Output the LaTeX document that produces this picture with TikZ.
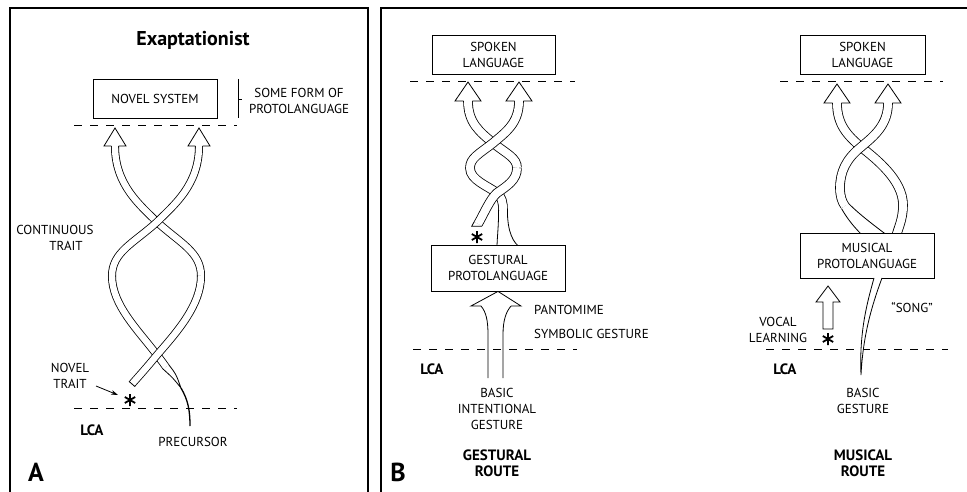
\documentclass[tikz,border=0pt]{standalone}
\usepackage{fontspec}
\setmainfont{PT Sans}
\usetikzlibrary{arrows.meta}
\begin{document}
\begin{tikzpicture}[x=1pt,y=-1pt,
  lbl/.style={font=\fontsize{13}{16}\selectfont, inner sep=0pt, align=center},
  blbl/.style={font=\fontsize{15}{16}\selectfont\bfseries, inner sep=0pt, align=center},
  boxn/.style={draw, line width=0.8pt, fill=white, inner sep=0pt, align=center, font=\fontsize{13}{16}\selectfont},
  ribA/.style={line width=0.8pt, double=white, double distance=6.4pt},
  ribB/.style={line width=0.8pt, double=white, double distance=8pt},
  edge/.style={line width=0.8pt},
  dline/.style={line width=0.9pt, dash pattern=on 8pt off 8pt},
  frame/.style={line width=1.2pt},
  starmark/.pic={\draw[line width=1.8pt] (0,-6) -- (0,6) (-5.2,-3) -- (5.2,3) (-5.2,3) -- (5.2,-3);}
]
\useasboundingbox (0,0) rectangle (967,492);
% frames
\draw[frame] (10,492) -- (10,8) -- (368,8) -- (368,492);
\draw[frame] (381,492) -- (381,8) -- (967,8);

%% ---------------- Panel A ----------------
\node[font=\fontsize{20}{22}\selectfont\bfseries, inner sep=0pt] (exap) at (193,40) {Exaptationist};
\draw[dline] (74,125) -- (237,125);
\draw[dline] (74,408) -- (237,408);
% strands
\draw[ribA] (115,146) .. controls (115,185) and (140,205) .. (157,222) .. controls (180,243) and (201,252) .. (201,276);
\draw[ribA] (199,146) .. controls (199,185) and (174,205) .. (157,222) .. controls (134,243) and (112,252) .. (112,276) .. controls (112,305) and (138,330) .. (157,355) .. controls (161,360) .. (166,367);
\draw[edge, fill=white] (168.9,364.9) .. controls (176,374) .. (181,388) .. controls (173,378) .. (163.1,369.1);
\draw[line width=1.3pt] (181,388) .. controls (188,400) and (190,410) .. (190,426);
\draw[ribA] (201,276) .. controls (201,305) and (177,332) .. (157,355) .. controls (147,367) .. (132,384);
\draw[edge] (135,386.6) -- (129,381.4);
% heads
\draw[edge, fill=white] (111.4,146) -- (104,146) -- (115,128) -- (126,146) -- (118.6,146);
\draw[edge, fill=white] (195.4,146) -- (188,146) -- (199,128) -- (210,146) -- (202.6,146);
\node[boxn, minimum width=124pt, minimum height=39pt] (novsys) at (155,98.5) {NOVEL SYSTEM};
\draw[edge] (238,79) -- (238,118);
\draw[edge] (238,99) -- (242,99);
\node[lbl] (someform) at (299,101) {SOME FORM OF\\PROTOLANGUAGE};
\node[lbl] (cont) at (55,230) {CONTINUOUS};
\node[lbl] (conttr) at (66,246) {TRAIT};
\node[lbl] (novel) at (70,376) {NOVEL\\TRAIT};
\pic at (130,400) {starmark};
\coordinate (astA) at (118,395);
\draw[edge, -{Stealth[length=7pt,width=4.5pt]}] (96,386) -- (astA);
\node[blbl] (lcaA) at (92,430) {LCA};
\node[lbl] (prec) at (193,442) {PRECURSOR};
\node[font=\fontsize{26}{26}\selectfont\bfseries, inner sep=0pt] (labA) at (36,472) {A};

%% ---------------- Panel B, gestural ----------------
\draw[dline] (410,81) -- (575,81);
\draw[dline] (413,349) -- (577,349);
\draw[ribB] (468,101) .. controls (468,123) and (480,132) .. (493,143) .. controls (507,154) and (517,158) .. (517,168);
\draw[ribB] (519,101) .. controls (519,123) and (506,132) .. (493,143) .. controls (479,154) and (470,158) .. (470,168) .. controls (470,180) and (488,186) .. (497,193) .. controls (502,197) and (503,203) .. (503,210);
\draw[edge, fill=white] (498.6,210) .. controls (498.6,228) and (497,238) .. (497,248) -- (521,248) .. controls (513,243) and (507.4,232) .. (507.4,210);
\draw[ribB] (517,168) .. controls (517,180) and (507,186) .. (497,193) .. controls (490,199) and (484,213.6) .. (478,224);
\draw[edge, fill=white] (474.2,221.8) -- (471.7,226.2) -- (481.8,226.2);
\draw[edge, fill=white] (463.6,101) -- (455,101) -- (468,82) -- (481,101) -- (472.4,101);
\draw[edge, fill=white] (514.6,101) -- (506,101) -- (519,82) -- (532,101) -- (523.4,101);
\node[boxn, minimum width=123pt, minimum height=39pt] (spokenL) at (493.5,54.5) {SPOKEN\\LANGUAGE};
\node[boxn, minimum width=134pt, minimum height=46pt] (gest) at (498,268) {GESTURAL\\PROTOLANGUAGE};
\pic at (477,237) {starmark};
% up arrow below box
\draw[edge, fill=white] (481,306) -- (471,306) -- (gest.south) -- (521,306) -- (511,306);
\draw[edge] (481,306) .. controls (486,312) and (488,320) .. (488,335) -- (488,378);
\draw[edge] (511,306) .. controls (506,312) and (503,320) .. (503,335) -- (503,378);
\node[lbl, anchor=west] (pant) at (534,310) {PANTOMIME};
\node[lbl, anchor=west] (symb) at (534,334) {SYMBOLIC GESTURE};
\node[blbl] (lcaB) at (432,369) {LCA};
\node[lbl] (basicint) at (497,409) {BASIC\\INTENTIONAL\\GESTURE};
\node[blbl] (groute) at (497,463) {GESTURAL\\ROUTE};
\node[font=\fontsize{26}{26}\selectfont\bfseries, inner sep=0pt] (labB) at (398,472) {B};

%% ---------------- Panel B, musical ----------------
\draw[dline] (780,81) -- (943,81);
\draw[dline] (766,349) -- (948,349);
\draw[ribB] (837,103) .. controls (837,125) and (848,136) .. (861,147) .. controls (876,159) and (903,180) .. (903,205) .. controls (903,220) and (898,228) .. (896,237);
\draw[ribB] (888,103) .. controls (888,125) and (874,136) .. (861,147) .. controls (846,159) and (840,172) .. (840,188) .. controls (840,196) and (842,202) .. (845,206);
\draw[edge, fill=white] (841.5,208.6) .. controls (848,220) and (855,228) .. (863,236) -- (888,236) .. controls (875,226) and (860,215) .. (848.5,203.4);
\draw[edge, fill=white] (832.6,103) -- (824,103) -- (837,84) -- (850,103) -- (841.4,103);
\draw[edge, fill=white] (883.6,103) -- (875,103) -- (888,84) -- (901,103) -- (892.4,103);
\node[boxn, minimum width=125pt, minimum height=39pt] (spokenR) at (862.5,54.5) {SPOKEN\\LANGUAGE};
\node[boxn, minimum width=134pt, minimum height=45pt] (mus) at (867,255.5) {MUSICAL\\PROTOLANGUAGE};
\draw[edge, fill=white] (874,278) .. controls (868,300) and (859,330) .. (861,375) .. controls (863,335) and (872,305) .. (882,278);
\draw[edge, fill=white] (828,286) -- (840,302) -- (833,302) -- (833,329) -- (823,329) -- (823,302) -- (816,302) -- cycle;
\pic at (828,339) {starmark};
\node[lbl] (song) at (912,308) {“SONG”};
\node[lbl] (vocal) at (778,330) {VOCAL\\LEARNING};
\node[blbl] (lcaM) at (785,369) {LCA};
\node[lbl] (basicg) at (863,401) {BASIC\\GESTURE};
\node[blbl] (mroute) at (863,463) {MUSICAL\\ROUTE};
\end{tikzpicture}
\end{document}
